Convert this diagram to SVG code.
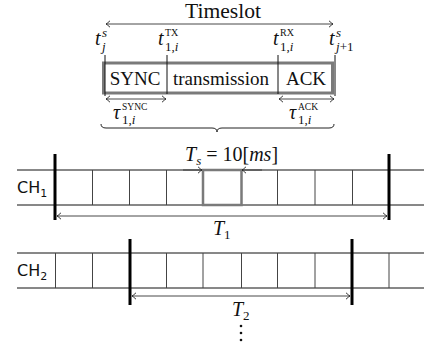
<svg xmlns="http://www.w3.org/2000/svg" width="424" height="349" viewBox="0 0 424 349">
<defs>
<marker id="ar" markerWidth="10" markerHeight="10" refX="0" refY="0" viewBox="-5 -5 10 10" orient="auto-start-reverse" markerUnits="userSpaceOnUse">
<path d="M-4,-3.2 Q-1.2,-0.6 0,0 Q-1.2,0.6 -4,3.2" fill="none" stroke="#222" stroke-width="0.9"/>
</marker>
</defs>
<style>
.serif{font-family:"Liberation Serif","Times New Roman","DejaVu Serif",serif;fill:#111}
.it{font-style:italic}
.sans{font-family:"DejaVu Sans","Liberation Sans",sans-serif;fill:#111}
.arr{stroke:#333;stroke-width:0.9;fill:none;marker-start:url(#ar);marker-end:url(#ar)}
.arr1{stroke:#333;stroke-width:0.9;fill:none;marker-end:url(#ar)}
.hl{stroke:#111;stroke-width:1;fill:none}
.cell{stroke:#444;stroke-width:1;fill:none}
.bar{stroke:#000;stroke-width:3;fill:none}
.tick{stroke:#111;stroke-width:1;fill:none}
</style>
<rect width="424" height="349" fill="#fff"/>

<g id="timeslot">
<text class="serif" x="223" y="18" font-size="20" text-anchor="middle" textLength="76" lengthAdjust="spacingAndGlyphs">Timeslot</text>
</g>

<g id="slot-box">
<rect x="103.5" y="63" width="229" height="30" fill="none" stroke="#7a7a7a" stroke-width="3"/>
<line class="tick" x1="105" y1="55" x2="105" y2="96"/>
<line class="tick" x1="167" y1="55" x2="167" y2="94"/>
<line class="tick" x1="278" y1="55" x2="278" y2="94"/>
<line class="tick" x1="335" y1="55" x2="335" y2="96"/>
<text class="serif" x="135" y="85" font-size="19" text-anchor="middle">SYNC</text>
<text class="serif" x="221" y="85" font-size="19" text-anchor="middle">transmission</text>
<text class="serif" x="306" y="85" font-size="19" text-anchor="middle">ACK</text>
</g>

<g id="time-labels" class="serif">
<text x="95" y="45" font-size="20" class="it">t</text>
<text x="102" y="37" font-size="13" class="it">s</text>
<text x="102" y="51" font-size="13" class="it">j</text>
<text x="158" y="45" font-size="20" class="it">t</text>
<text x="165" y="36" font-size="10">TX</text>
<text x="165" y="51" font-size="13">1,<tspan class="it">i</tspan></text>
<text x="273" y="45" font-size="20" class="it">t</text>
<text x="280" y="36" font-size="10">RX</text>
<text x="280" y="51" font-size="13">1,<tspan class="it">i</tspan></text>
<text x="329" y="45" font-size="20" class="it">t</text>
<text x="336" y="37" font-size="13" class="it">s</text>
<text x="336" y="51" font-size="13"><tspan class="it">j</tspan>+1</text>
</g>

<g id="tau-labels" class="serif">
<text x="113" y="119" font-size="20" class="it">τ</text>
<text x="122" y="110" font-size="9.5">SYNC</text>
<text x="122" y="124" font-size="13">1,<tspan class="it">i</tspan></text>
<text x="289" y="119" font-size="20" class="it">τ</text>
<text x="298" y="110" font-size="9.5">ACK</text>
<text x="298" y="124" font-size="13">1,<tspan class="it">i</tspan></text>
</g>

<g id="ts-label" class="serif">
<text x="185" y="161" font-size="20"><tspan class="it">T</tspan><tspan class="it" font-size="13" dy="4">s</tspan><tspan dy="-4"> = 10[</tspan><tspan class="it">ms</tspan>]</text>
</g>

<g id="ch1">
<line class="hl" x1="17" y1="170" x2="424" y2="170"/>
<line class="hl" x1="17" y1="205" x2="424" y2="205"/>
<path class="cell" d="M92.5,170V205M129.5,170V205M166.5,170V205M277.5,170V205M315,170V205M352.5,170V205"/>
<rect x="203" y="170" width="38.5" height="35" fill="none" stroke="#7a7a7a" stroke-width="2.5"/>
<line class="bar" x1="55" y1="154" x2="55" y2="220"/>
<line class="bar" x1="389" y1="154" x2="389" y2="220"/>
<text class="sans" x="17" y="193" font-size="16">CH<tspan font-size="11" dy="4">1</tspan></text>
</g>

<g id="ch2">
<line class="hl" x1="17" y1="253" x2="424" y2="253"/>
<line class="hl" x1="17" y1="288" x2="424" y2="288"/>
<path class="cell" d="M55.5,253V288M92.5,253V288M166.5,253V288M203,253V288M241.5,253V288M277.5,253V288M315,253V288M389,253V288"/>
<line class="bar" x1="130" y1="239" x2="130" y2="305"/>
<line class="bar" x1="352" y1="239" x2="352" y2="305"/>
<text class="sans" x="17" y="276" font-size="16">CH<tspan font-size="11" dy="4">2</tspan></text>
</g>

<g id="period-labels" class="serif">
<text x="213" y="235" font-size="20" class="it">T</text>
<text x="224" y="239" font-size="13">1</text>
<text x="232" y="316" font-size="20" class="it">T</text>
<text x="243" y="320" font-size="13">2</text>
<circle cx="241" cy="326" r="1.3" fill="#111"/>
<circle cx="241" cy="333" r="1.3" fill="#111"/>
<circle cx="241" cy="340" r="1.3" fill="#111"/>
</g>

<g id="connectors">
<line class="arr" x1="106" y1="24" x2="333" y2="24"/>
<line class="arr" x1="106" y1="99" x2="166" y2="99"/>
<line class="arr" x1="279" y1="99" x2="334" y2="99"/>
<path d="M101,124 Q101,128 106,128 L212,128 Q217,128 217,132 Q217,128 222,128 L329,128 Q334,128 334,124" fill="none" stroke="#222" stroke-width="1"/>
<line class="arr1" x1="183" y1="170" x2="202" y2="170"/>
<line class="arr1" x1="262" y1="170" x2="242" y2="170"/>
<line class="arr" x1="57" y1="216" x2="387" y2="216"/>
<line class="arr" x1="132" y1="296" x2="350" y2="296"/>
</g>
</svg>
